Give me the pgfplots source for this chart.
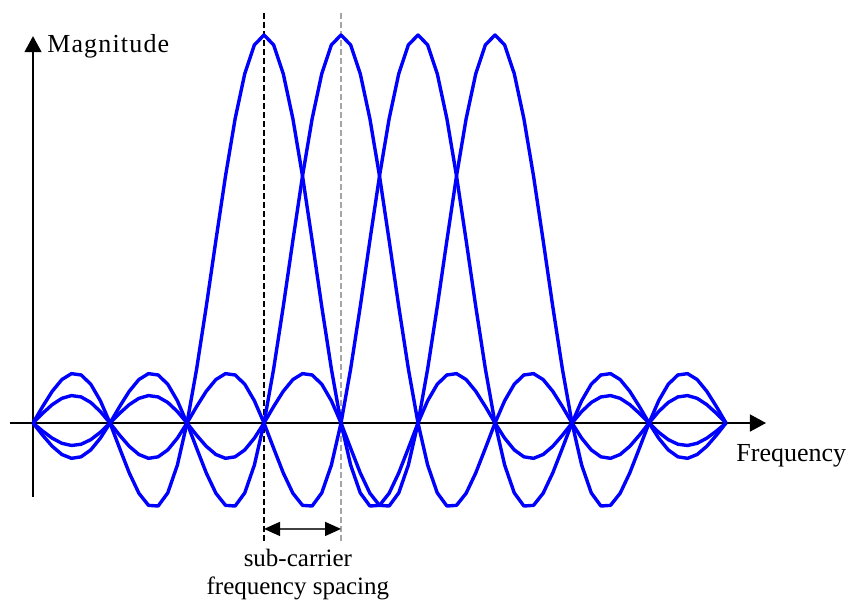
\documentclass[border=0pt]{standalone}
\usepackage{fontspec}
\setmainfont{Liberation Serif}
\newfontfamily\spacedfont[LetterSpace=4.5]{Liberation Serif}
\usepackage{pgfplots}
\usepackage{pgfplotstable}
\pgfplotsset{compat=1.18}
\usetikzlibrary{arrows.meta}
\definecolor{curveblue}{RGB}{0,0,255}
\definecolor{dashgray}{RGB}{165,165,165}

\pgfplotstableread{
x a b c d
0 0 0 0 0
0.125 0.0424 -0.0314 0.0250 -0.0207
0.25 0.0818 -0.0600 0.0474 -0.0391
0.375 0.1120 -0.0811 0.0636 -0.0523
0.5 0.1273 -0.0910 0.0707 -0.0579
0.625 0.1238 -0.0871 0.0672 -0.0547
0.75 0.1000 -0.0693 0.0530 -0.0429
0.875 0.0573 -0.0390 0.0295 -0.0238
1 0 0 0 0
1.125 -0.0650 0.0424 -0.0314 0.0250
1.25 -0.1286 0.0818 -0.0600 0.0474
1.375 -0.1810 0.1120 -0.0811 0.0636
1.5 -0.2122 0.1273 -0.0910 0.0707
1.625 -0.2139 0.1238 -0.0871 0.0672
1.75 -0.1801 0.1000 -0.0693 0.0530
1.875 -0.1083 0.0573 -0.0390 0.0295
2 0 0 0 0
2.125 0.1392 -0.0650 0.0424 -0.0314
2.25 0.3001 -0.1286 0.0818 -0.0600
2.375 0.4705 -0.1810 0.1120 -0.0811
2.5 0.6366 -0.2122 0.1273 -0.0910
2.625 0.7842 -0.2139 0.1238 -0.0871
2.75 0.9003 -0.1801 0.1000 -0.0693
2.875 0.9745 -0.1083 0.0573 -0.0390
3 1 0 0 0
3.125 0.9745 0.1392 -0.0650 0.0424
3.25 0.9003 0.3001 -0.1286 0.0818
3.375 0.7842 0.4705 -0.1810 0.1120
3.5 0.6366 0.6366 -0.2122 0.1273
3.625 0.4705 0.7842 -0.2139 0.1238
3.75 0.3001 0.9003 -0.1801 0.1000
3.875 0.1392 0.9745 -0.1083 0.0573
4 0 1 0 0
4.125 -0.1083 0.9745 0.1392 -0.0650
4.25 -0.1801 0.9003 0.3001 -0.1286
4.375 -0.2139 0.7842 0.4705 -0.1810
4.5 -0.2122 0.6366 0.6366 -0.2122
4.625 -0.1810 0.4705 0.7842 -0.2139
4.75 -0.1286 0.3001 0.9003 -0.1801
4.875 -0.0650 0.1392 0.9745 -0.1083
5 0 0 1 0
5.125 0.0573 -0.1083 0.9745 0.1392
5.25 0.1000 -0.1801 0.9003 0.3001
5.375 0.1238 -0.2139 0.7842 0.4705
5.5 0.1273 -0.2122 0.6366 0.6366
5.625 0.1120 -0.1810 0.4705 0.7842
5.75 0.0818 -0.1286 0.3001 0.9003
5.875 0.0424 -0.0650 0.1392 0.9745
6 0 0 0 1
6.125 -0.0390 0.0573 -0.1083 0.9745
6.25 -0.0693 0.1000 -0.1801 0.9003
6.375 -0.0871 0.1238 -0.2139 0.7842
6.5 -0.0910 0.1273 -0.2122 0.6366
6.625 -0.0811 0.1120 -0.1810 0.4705
6.75 -0.0600 0.0818 -0.1286 0.3001
6.875 -0.0314 0.0424 -0.0650 0.1392
7 0 0 0 0
7.125 0.0295 -0.0390 0.0573 -0.1083
7.25 0.0530 -0.0693 0.1000 -0.1801
7.375 0.0672 -0.0871 0.1238 -0.2139
7.5 0.0707 -0.0910 0.1273 -0.2122
7.625 0.0636 -0.0811 0.1120 -0.1810
7.75 0.0474 -0.0600 0.0818 -0.1286
7.875 0.0250 -0.0314 0.0424 -0.0650
8 0 0 0 0
8.125 -0.0238 0.0295 -0.0390 0.0573
8.25 -0.0429 0.0530 -0.0693 0.1000
8.375 -0.0547 0.0672 -0.0871 0.1238
8.5 -0.0579 0.0707 -0.0910 0.1273
8.625 -0.0523 0.0636 -0.0811 0.1120
8.75 -0.0391 0.0474 -0.0600 0.0818
8.875 -0.0207 0.0250 -0.0314 0.0424
9 0 0 0 0
}\sincdata

\begin{document}
\begin{tikzpicture}
\begin{axis}[
  x=38.5pt, y=194pt,
  xmin=-0.2987, xmax=9.519, ymin=-0.191, ymax=0.997,
  axis lines=middle,
  axis line style={line width=0.75pt, -{Triangle[length=8pt,width=8.5pt]}},
  xtick=\empty, ytick=\empty,
  clip=false,
]
\draw[black, line width=0.55pt, dash pattern=on 3pt off 1.5pt] (axis cs:3,1.057) -- (axis cs:3,-0.309);
\draw[dashgray, line width=0.65pt, dash pattern=on 3pt off 1.5pt] (axis cs:4,1.057) -- (axis cs:4,-0.309);

\addplot[curveblue, line width=1.7pt, line join=round, no marks] table[x=x,y=a]{\sincdata};
\addplot[curveblue, line width=1.7pt, line join=round, no marks] table[x=x,y=b]{\sincdata};
\addplot[curveblue, line width=1.7pt, line join=round, no marks] table[x=x,y=c]{\sincdata};
\addplot[curveblue, line width=1.7pt, line join=round, no marks] table[x=x,y=d]{\sincdata};

\draw[{Triangle[length=8pt,width=7pt,black]}-{Triangle[length=8pt,width=7pt,black]}, line width=0.75pt, black!75]
  (axis cs:3,-0.273) -- (axis cs:4,-0.273);

\node[anchor=base west, inner sep=0pt, font=\fontsize{13}{15}\spacedfont] at (axis cs:0.18,0.956) {Magnitude};
\node[anchor=base west, inner sep=0pt, font=\fontsize{13}{15}\selectfont] at (axis cs:9.13,-0.098) {Frequency};
\node[anchor=base, inner sep=0pt, font=\fontsize{12.5}{15}\selectfont] at (axis cs:3.44,-0.371) {sub-carrier};
\node[anchor=base, inner sep=0pt, font=\fontsize{12.5}{15}\selectfont] at (axis cs:3.44,-0.441) {frequency spacing};

\coordinate (bl) at (axis cs:-0.4286,-0.4639);
\coordinate (tr) at (axis cs:10.714,1.0902);
\end{axis}
\pgfresetboundingbox
\path[use as bounding box] (bl) rectangle (tr);
\end{tikzpicture}
\end{document}
